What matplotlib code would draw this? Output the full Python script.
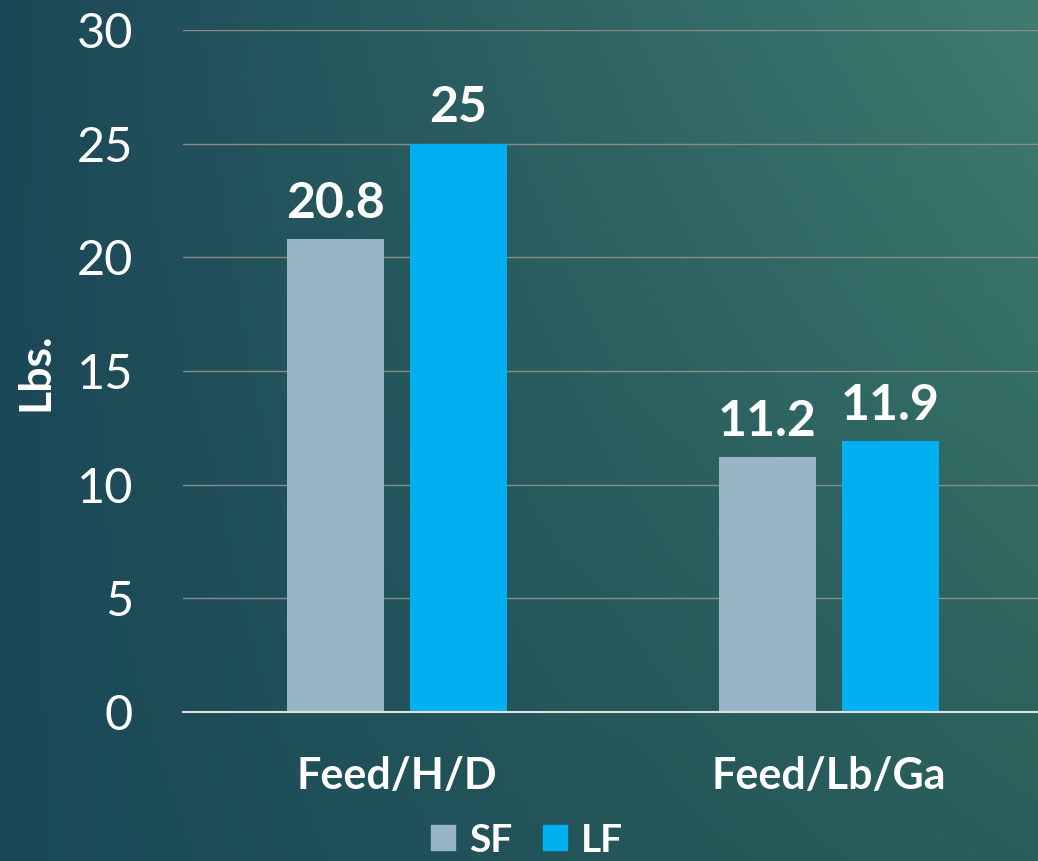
import numpy as np
import matplotlib
matplotlib.use("Agg")
import matplotlib.pyplot as plt
from matplotlib.colors import to_rgb
from matplotlib.patches import Patch

categories = ["Feed/H/D", "Feed/Lb/Ga"]
series_names = ["SF", "LF"]
sf_values = [20.8, 11.2]
lf_values = [25, 11.9]
sf_labels = ["20.8", "11.2"]
lf_labels = ["25", "11.9"]
yticks = [0, 5, 10, 15, 20, 25, 30]

colors = {"SF": "#97b5c6", "LF": "#00b0f0"}

W, H, DPI = 1038, 861, 100
fig = plt.figure(figsize=(W / DPI, H / DPI), dpi=DPI)

# background gradient
bg = fig.add_axes([0, 0, 1, 1], zorder=-10)
bg.set_axis_off()
ny, nx = 200, 240
yy, xx = np.mgrid[0:1:ny * 1j, 0:1:nx * 1j]  # yy=0 top
tl, tr = np.array(to_rgb("#1c4756")), np.array(to_rgb("#3f7c70"))
bl, br = np.array(to_rgb("#1a4858")), np.array(to_rgb("#2a5e5a"))
img = ((1 - xx)[..., None] * (1 - yy)[..., None] * tl
       + xx[..., None] * (1 - yy)[..., None] * tr
       + (1 - xx)[..., None] * yy[..., None] * bl
       + xx[..., None] * yy[..., None] * br)
bg.imshow(img, aspect="auto", extent=[0, 1, 0, 1], interpolation="bilinear")
bg.set_xlim(0, 1)
bg.set_ylim(0, 1)

# plot axes: x 183..1038, y 30..712 (pixels from top)
left = 183 / W
right = 1.0
top = 1 - 30 / H
bottom = 1 - 712 / H
ax = fig.add_axes([left, bottom, right - left, top - bottom])
ax.set_facecolor("none")

x = np.arange(len(categories))
width = 0.224
off = 0.142
ax.bar(x - off, sf_values, width, color=colors["SF"], zorder=3)
ax.bar(x + off, lf_values, width, color=colors["LF"], zorder=3)

fam = ["Lato", "DejaVu Sans"]
lab_font = dict(family=fam, fontweight="bold", color="white", fontsize=36)
for xi, v, t in zip(x, sf_values, sf_labels):
    ax.text(xi - off, v + 0.95, t, ha="center", va="baseline", **lab_font)
for xi, v, t in zip(x, lf_values, lf_labels):
    ax.text(xi + off, v + 0.95, t, ha="center", va="baseline", **lab_font)

ax.set_ylim(0, 30)
ax.set_xlim(-0.495, 1.484)
ax.set_yticks(yticks)
ax.set_yticklabels([str(t) for t in yticks], family=fam,
                   fontweight="normal", fontsize=35, color="white")
ax.set_xticks(x)
ax.set_xticklabels(categories, family=fam, fontweight="bold",
                   fontsize=31, color="white")
ax.tick_params(axis="both", length=0)
ax.tick_params(axis="y", pad=36)
ax.tick_params(axis="x", pad=32)

ax.grid(axis="y", color="#8c8c84", linewidth=1, zorder=0)
for s in ["top", "right", "left"]:
    ax.spines[s].set_visible(False)
ax.spines["bottom"].set_color("#e0e0e0")
ax.spines["bottom"].set_linewidth(1.5)
ax.spines["bottom"].set_zorder(4)

fig.text(35 / W, 1 - 372 / H, "Lbs.", rotation=90, ha="center", va="center",
         family=fam, fontweight="bold", fontsize=32, color="white")

handles = [Patch(color=colors[n]) for n in series_names]
leg = fig.legend(handles, series_names, loc="center", bbox_to_anchor=(527 / W, 1 - 840 / H),
                 ncol=2, frameon=False, handlelength=0.62, handleheight=0.62,
                 handletextpad=0.35, columnspacing=0.8,
                 prop=dict(family=fam, weight="bold", size=28))
for t in leg.get_texts():
    t.set_color("white")

fig.savefig("out.png", dpi=DPI)
